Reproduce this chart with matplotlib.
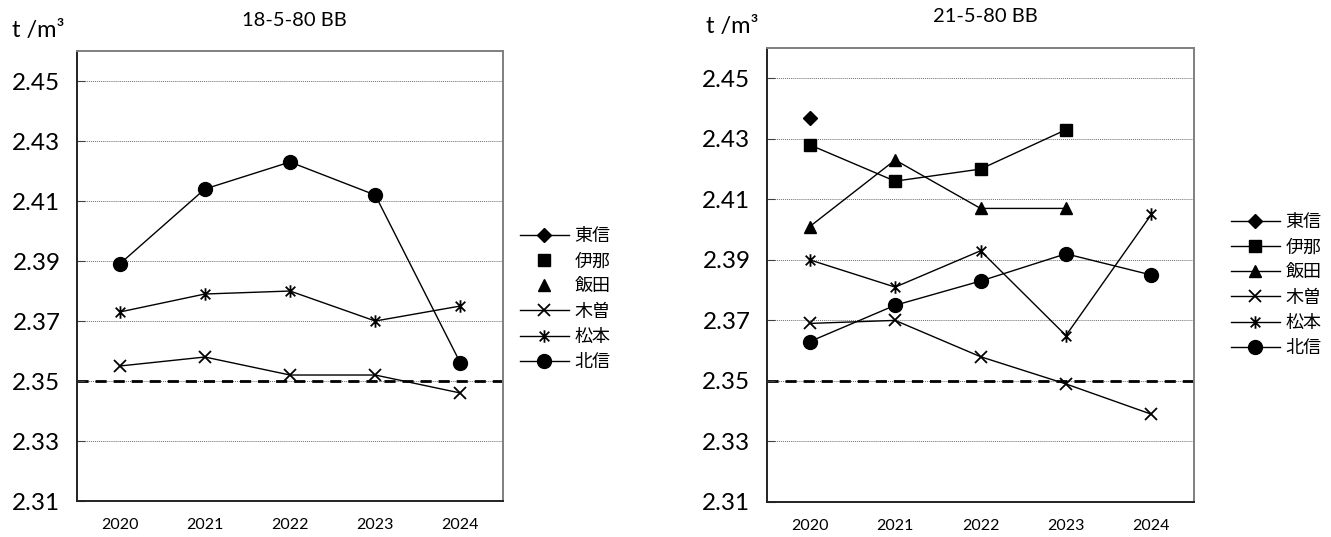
import numpy as np
import matplotlib.pyplot as plt
from matplotlib.path import Path

plt.rcParams['font.family'] = ['Lato', 'Noto Sans CJK JP', 'DejaVu Sans']

years = ["2020", "2021", "2022", "2023", "2024"]
regions = ["東信", "伊那", "飯田", "木曽", "松本", "北信"]
nan = np.nan

# 18-5-80 BB
left_toshin = [nan, nan, nan, nan, nan]
left_ina = [nan, nan, nan, nan, nan]
left_iida = [nan, nan, nan, nan, nan]
left_kiso = [2.355, 2.358, 2.352, 2.352, 2.346]
left_matsumoto = [2.373, 2.379, 2.380, 2.370, 2.375]
left_hokushin = [2.389, 2.414, 2.423, 2.412, 2.356]

# 21-5-80 BB
right_toshin = [2.437, nan, nan, nan, nan]
right_ina = [2.428, 2.416, 2.420, 2.433, nan]
right_iida = [2.401, 2.423, 2.407, 2.407, nan]
right_kiso = [2.369, 2.370, 2.358, 2.349, 2.339]
right_matsumoto = [2.390, 2.381, 2.393, 2.365, 2.405]
right_hokushin = [2.363, 2.375, 2.383, 2.392, 2.385]

standard = 2.35
yticks = [2.31, 2.33, 2.35, 2.37, 2.39, 2.41, 2.43, 2.45]

# excel style asterisk: x plus a vertical bar
star = Path([(-1, -1), (1, 1), (-1, 1), (1, -1), (0, -1.3), (0, 1.3)],
            [Path.MOVETO, Path.LINETO, Path.MOVETO, Path.LINETO, Path.MOVETO, Path.LINETO])

styles = [
    dict(marker="D", ms=7),
    dict(marker="s", ms=9),
    dict(marker="^", ms=9),
    dict(marker="x", ms=8, mew=1.3),
    dict(marker=star, ms=9, mew=1.3),
    dict(marker="o", ms=10),
]


def draw_panel(ax, series, title, fig_title_x, fig_title_y, unit_x, unit_y, line_flags):
    x = np.arange(len(years))
    for name, vals, st, has_line in zip(regions, series, styles, line_flags):
        ax.plot(x, vals, color="black", lw=1.0 if has_line else 0,
                linestyle="-" if has_line else "none",
                mfc="black", mec="black", label=name, **st)
    ax.axhline(standard, color="black", lw=2, linestyle=(0, (4, 2.5)), zorder=1)
    for t in yticks[1:]:
        ax.axhline(t, color="#6e6e6e", lw=0.7, linestyle=(0, (1, 1)), zorder=0)
    ax.set_xlim(-0.5, len(years) - 0.5)
    ax.set_ylim(2.31, 2.46)
    ax.set_xticks(x)
    ax.set_xticklabels(years, fontsize=11.5)
    ax.set_yticks(yticks)
    ax.set_yticklabels([f"{t:.2f}" for t in yticks], fontsize=17.5)
    ax.tick_params(axis="x", length=0, pad=12)
    ax.tick_params(axis="y", direction="in", length=6, pad=12, color="#404040")
    for side in ["left", "bottom"]:
        ax.spines[side].set_color("#222222")
        ax.spines[side].set_linewidth(1.4)
    for side in ["top", "right"]:
        ax.spines[side].set_color("#7f7f7f")
        ax.spines[side].set_linewidth(1.4)
    fig = ax.figure
    fig.text(fig_title_x, fig_title_y, title, ha="center", va="center", fontsize=14.5)
    fig.text(unit_x, unit_y, "t /m³", ha="left", va="center", fontsize=17)


fig = plt.figure(figsize=(13.31, 5.37), dpi=100)
ax1 = fig.add_axes([0.0579, 0.067, 0.320, 0.838])
ax2 = fig.add_axes([0.5763, 0.0652, 0.3208, 0.8454])

draw_panel(ax1, [left_toshin, left_ina, left_iida, left_kiso, left_matsumoto, left_hokushin],
           "18-5-80 BB", 294 / 1331, 1 - 21 / 537, 12 / 1331, 1 - 31 / 537,
           [True, False, False, True, True, True])
draw_panel(ax2, [right_toshin, right_ina, right_iida, right_kiso, right_matsumoto, right_hokushin],
           "21-5-80 BB", 985 / 1331, 1 - 16 / 537, 706 / 1331, 1 - 26 / 537,
           [True] * 6)

leg_kw = dict(frameon=False, fontsize=13, handlelength=2.7, handletextpad=0.3,
              labelspacing=0.5, borderaxespad=0, borderpad=0)
ax1.legend(loc="upper left", bbox_to_anchor=(520 / 1331, 1 - 228 / 537),
           bbox_transform=fig.transFigure, **leg_kw)
ax2.legend(loc="upper left", bbox_to_anchor=(1231 / 1331, 1 - 214 / 537),
           bbox_transform=fig.transFigure, **leg_kw)

fig.savefig("out.png", dpi=100)
